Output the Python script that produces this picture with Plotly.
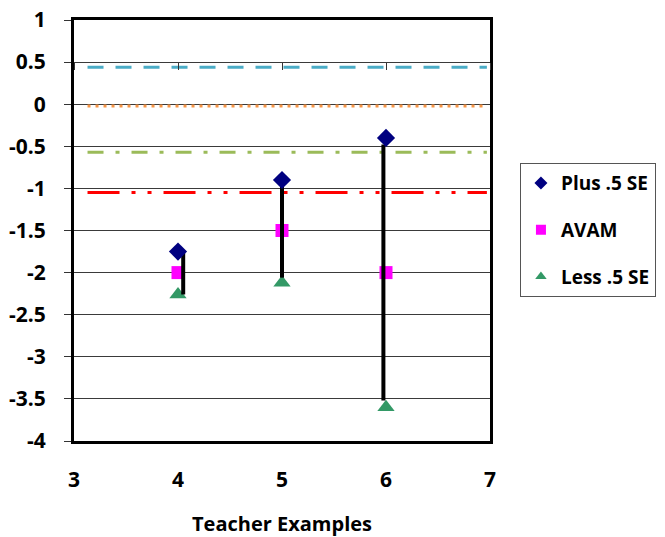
import plotly.graph_objects as go

# ---- data ----
teachers = [4, 5, 6]
plus_se = [-1.75, -0.90, -0.40]
avam = [-2.00, -1.50, -2.00]
less_se = [-2.26, -2.12, -3.60]

# high-low connector lines (as drawn in the source)
hl_x = [4.05, 5.0, 5.975]
hl_top = [-1.74, -0.90, -0.48]
hl_bottom = [-2.26, -2.06, -3.52]

# horizontal reference levels
ref_x = [3.13, 6.97]
ref_levels = [0.44, -0.02, -0.57, -1.05]
ref_colors = ["#4BACC6", "#F79646", "#9BBB59", "#FF0000"]
ref_dashes = ["16px,12px", "3px,5px", "16px,12px,4px,12px", "32px,12px,4px,12px,4px,12px"]

series_names = ["Plus .5 SE", "AVAM", "Less .5 SE"]
series_symbols = ["diamond", "square", "triangle-up"]
series_colors = ["#000080", "#FF00FF", "#339966"]

x_ticks = [3, 4, 5, 6, 7]
y_ticks = [1, 0.5, 0, -0.5, -1, -1.5, -2, -2.5, -3, -3.5, -4]

FONT = "Open Sans"

fig = go.Figure()

for lvl, col, dash in zip(ref_levels, ref_colors, ref_dashes):
    fig.add_trace(go.Scatter(x=ref_x, y=[lvl, lvl], mode="lines",
                             line=dict(color=col, width=3, dash=dash),
                             showlegend=False, hoverinfo="skip"))

fig.add_trace(go.Scatter(x=teachers, y=avam, mode="markers", showlegend=False,
                         marker=dict(symbol="square", size=13, color="#FF00FF")))
fig.add_trace(go.Scatter(x=teachers, y=less_se, mode="markers", showlegend=False,
                         marker=dict(symbol="triangle-up", size=15, color="#339966")))

lx, ly = [], []
for x, t, b in zip(hl_x, hl_top, hl_bottom):
    lx += [x, x, None]
    ly += [t, b, None]
fig.add_trace(go.Scatter(x=lx, y=ly, mode="lines", line=dict(color="black", width=4),
                         showlegend=False, hoverinfo="skip"))

fig.add_trace(go.Scatter(x=teachers, y=plus_se, mode="markers", showlegend=False,
                         marker=dict(symbol="diamond", size=14, color="#000080")))

# legend entries (smaller symbols as in the source legend)
for i, (nm, sym, col) in enumerate(zip(series_names, series_symbols, series_colors)):
    fig.add_trace(go.Scatter(x=[None], y=[None], mode="markers", name="<b>%s</b>" % nm,
                             marker=dict(symbol=sym, size=10, color=col),
                             legendgroup=str(i), legendrank=i + 1))

# invisible trace to carry the tick marks on the secondary x axis
fig.add_trace(go.Scatter(x=[3, 7], y=[0, 0], xaxis="x2", mode="markers",
                         marker=dict(opacity=0), showlegend=False, hoverinfo="skip"))

fig.update_layout(
    width=665, height=537,
    margin=dict(l=74, r=175, t=20, b=96, autoexpand=False),
    paper_bgcolor="white", plot_bgcolor="white",
    font=dict(family=FONT, color="black", size=20),
    xaxis=dict(range=[3, 7], tickmode="array", tickvals=x_ticks,
               ticktext=["<b>%g</b>" % v for v in x_ticks],
               showgrid=False, zeroline=False,
               showline=True, linecolor="black", linewidth=3, mirror=True,
               ticks="", ticklabelstandoff=18, automargin=False,
               tickfont=dict(family=FONT, size=21),
               title=dict(text="<b>Teacher Examples</b>", standoff=26,
                          font=dict(family=FONT, size=20))),
    xaxis2=dict(range=[3, 7], dtick=1, tick0=3, overlaying="x", anchor="free",
                position=0.9, side="bottom", ticks="outside", ticklen=7,
                tickcolor="#333", tickwidth=1, showticklabels=False,
                showgrid=False, zeroline=False, showline=False),
    yaxis=dict(range=[-4, 1], tickmode="array", tickvals=y_ticks,
               ticktext=["<b>%g</b>" % v for v in y_ticks],
               showgrid=True, gridcolor="#3a3a3a", gridwidth=1, zeroline=False,
               showline=True, linecolor="black", linewidth=3, mirror=True,
               ticks="outside", ticklen=7, tickcolor="#333", tickwidth=1,
               ticklabelstandoff=14, automargin=False,
               tickfont=dict(family=FONT, size=21)),
    legend=dict(x=1.072, y=0.66, xanchor="left", yanchor="top",
                bordercolor="#555", borderwidth=1, bgcolor="white",
                traceorder="grouped", tracegroupgap=19,
                font=dict(family=FONT, size=19)),
    showlegend=True,
)

fig.write_html("out.html")
